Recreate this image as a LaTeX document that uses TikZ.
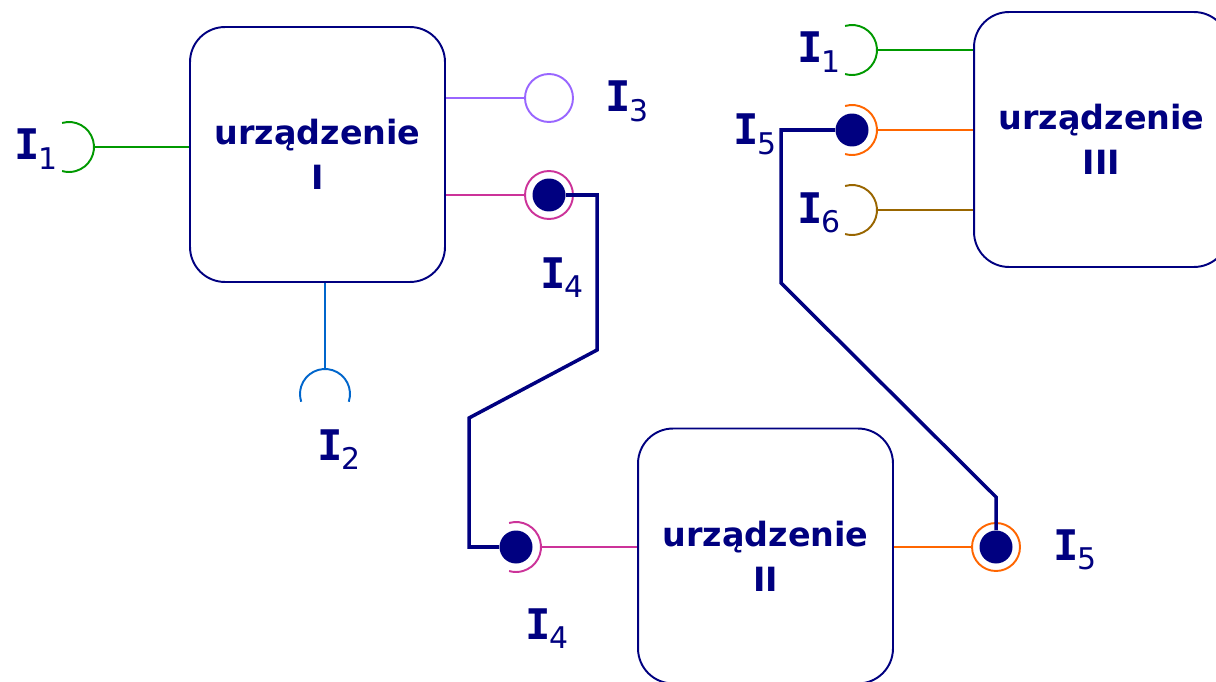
\documentclass[tikz,border=0pt]{standalone}
\usepackage{fontspec}
\setmainfont{DejaVu Sans}
\newfontfamily\monoI{DejaVu Sans Mono}
\definecolor{navy}{HTML}{000080}
\definecolor{cgreen}{HTML}{009900}
\definecolor{cpurple}{HTML}{9966FF}
\definecolor{cmag}{HTML}{CC3399}
\definecolor{cblue}{HTML}{0066CC}
\definecolor{corange}{HTML}{FF6600}
\definecolor{cbrown}{HTML}{996600}
\newcommand\lbl[1]{{\monoI\bfseries I}\kern-0.5pt\raisebox{-5.5pt}{\fontsize{17}{17}\selectfont #1}}
\begin{document}
\begin{tikzpicture}[x=0.02cm,y=-0.02cm,
  devbox/.style={draw=navy, line width=1.1pt, rounded corners=0.7cm, fill=white,
    minimum width=5.1cm, minimum height=5.1cm, inner sep=0pt, align=center, text=navy,
    font=\fontsize{19}{25.5}\selectfont\bfseries},
  thin/.style={line width=1.1pt},
  ring/.style={circle, minimum size=0.96cm, inner sep=0pt, line width=1.1pt, fill=white},
  dot/.style={circle, fill=navy, minimum size=0.66cm, inner sep=0pt},
  wire/.style={draw=navy, line width=2pt},
  lab/.style={anchor=base west, inner sep=0pt, text=navy, font=\fontsize{24}{24}\selectfont}]
\useasboundingbox (0,0) rectangle (1216,682);
\fill[white] (0,0) rectangle (1216,682);
\begin{scope}
\clip (0,0) rectangle (1216,682);
% devices
\node[devbox] (b1) at (317.5,154.5) {urządzenie\\I};
\node[devbox] (b2) at (765.5,556) {urządzenie\\II};
\node[devbox] (b3) at (1101.5,139.5) {urządzenie\\III};

% I1 left socket
\coordinate (c1) at (69,147);
\coordinate (a1) at (94,147);
\draw[thin, cgreen] ([shift={(106:0.5cm)}]c1) arc[start angle=106, end angle=-106, radius=0.5cm];
\draw[thin, cgreen] (a1) -- (a1 -| b1.west);

% I2 socket
\coordinate (c2) at (325,394);
\coordinate (a2) at (325,369);
\draw[thin, cblue] ([shift={(-18:0.5cm)}]c2) arc[start angle=-18, end angle=198, radius=0.5cm];
\draw[thin, cblue] (a2) -- (a2 |- b1.south);

% I3 plug
\node[ring, draw=cpurple] (r3) at (549,98) {};
\draw[thin, cpurple] (r3.west) -- (r3.west -| b1.east);

% I4 top plug
\node[ring, draw=cmag] (r4a) at (549,195) {};
\draw[thin, cmag] (r4a.west) -- (r4a.west -| b1.east);

% I4 bottom socket
\coordinate (c4b) at (516,547);
\coordinate (a4b) at (541,547);
\draw[thin, cmag] ([shift={(106:0.5cm)}]c4b) arc[start angle=106, end angle=-106, radius=0.5cm];
\draw[thin, cmag] (a4b) -- (a4b -| b2.west);

% I5 right plug
\node[ring, draw=corange] (r5b) at (996,547) {};
\draw[thin, corange] (r5b.west) -- (r5b.west -| b2.east);

% top-right sockets
\coordinate (c1r) at (852,50);
\coordinate (a1r) at (877,50);
\draw[thin, cgreen] ([shift={(106:0.5cm)}]c1r) arc[start angle=106, end angle=-106, radius=0.5cm];
\draw[thin, cgreen] (a1r) -- (a1r -| b3.west);
\coordinate (c5a) at (852,130);
\coordinate (a5a) at (877,130);
\draw[thin, corange] ([shift={(106:0.5cm)}]c5a) arc[start angle=106, end angle=-106, radius=0.5cm];
\draw[thin, corange] (a5a) -- (a5a -| b3.west);
\coordinate (c6) at (852,210);
\coordinate (a6) at (877,210);
\draw[thin, cbrown] ([shift={(106:0.5cm)}]c6) arc[start angle=106, end angle=-106, radius=0.5cm];
\draw[thin, cbrown] (a6) -- (a6 -| b3.west);

% dots
\node[dot] (d4a) at (549,195) {};
\node[dot] (d4b) at (c4b) {};
\node[dot] (d5b) at (996,547) {};
\node[dot] (d5a) at (c5a) {};

% wires
\draw[wire] (d4a.east) -- (597,195) -- (597,350) -- (469,418) -- (469,547) -- (d4b.west);
\draw[wire] (d5b.north) -- (996,497) -- (781,283) -- (781,130) -- (d5a.west);

% labels
\node[lab] (l1) at (14,160) {\lbl{1}};
\node[lab] (l2) at (317,460) {\lbl{2}};
\node[lab] (l3) at (605,112) {\lbl{3}};
\node[lab] (l4a) at (540,288) {\lbl{4}};
\node[lab] (l4b) at (525,639) {\lbl{4}};
\node[lab] (l5b) at (1053,560) {\lbl{5}};
\node[lab] (l1r) at (797,63) {\lbl{1}};
\node[lab] (l5a) at (733,145) {\lbl{5}};
\node[lab] (l6) at (797,223) {\lbl{6}};
\end{scope}
\end{tikzpicture}
\end{document}
